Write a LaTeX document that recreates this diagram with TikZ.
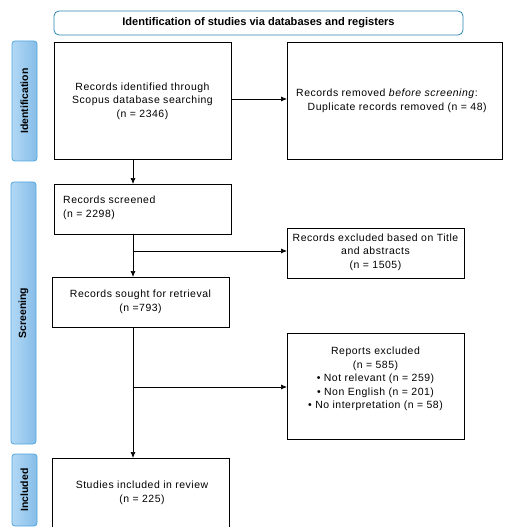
\documentclass[tikz,border=0pt]{standalone}
\usepackage{fontspec}
\setmainfont{Liberation Sans}[LetterSpace=5]
\newfontfamily\titlefont{Liberation Sans}
\usetikzlibrary{arrows.meta,shadings}
\definecolor{barborder}{HTML}{4FA6DE}
\definecolor{barleft}{HTML}{B2D8F5}
\definecolor{barright}{HTML}{86BDE8}
\definecolor{titleborder}{HTML}{2A86B0}
\tikzset{
  box/.style={draw=black, line width=0.8pt, inner sep=0pt},
  sidebar/.style={draw=barborder, line width=0.8pt, rounded corners=3pt, left color=barleft, right color=barright},
  sidelabel/.style={rotate=90, font=\titlefont\fontsize{10.5}{12}\selectfont\bfseries},
  txt/.style={font=\fontsize{10.5}{13.5}\selectfont, align=center, inner sep=0pt},
  flow/.style={-{Latex[length=6pt,width=5pt]}, line width=0.7pt},
}
\begin{document}
\begin{tikzpicture}[x=1bp,y=-1bp]
\useasboundingbox (0,0) rectangle (512,527);
% title
\draw[draw=titleborder, line width=0.8pt, rounded corners=5pt] (54,11) rectangle (463,35);
\node[txt, font=\titlefont\fontsize{11.1}{12}\selectfont\bfseries] (title) at (258.5,23) {Identification of studies via databases and registers};
% side bars
\shade[sidebar] (12,41) rectangle (37,161);
\node[sidelabel] (lid) at (24.5,101) {Identification};
\shade[sidebar] (11,182) rectangle (36,444);
\node[sidelabel] (lsc) at (23.5,313) {Screening};
\shade[sidebar] (12,454) rectangle (37,526);
\node[sidelabel] (lin) at (24.5,490) {Included};
% boxes
\node[box, minimum width=177bp, minimum height=117bp, anchor=north west] (b1) at (54,42) {};
\node[txt] at (142.5,101) {Records identified through\\Scopus database searching\\(n = 2346)};
\node[box, minimum width=215bp, minimum height=117bp, anchor=north west] (b2) at (287,42) {};
\node[txt, align=left, anchor=west] at (296,101) {Records removed \textit{before screening}:\\\hspace{1.1em}Duplicate records removed (n = 48)};
\node[box, minimum width=177bp, minimum height=50bp, anchor=north west] (b3) at (54,184) {};
\node[txt, align=left, anchor=west] at (63,208) {Records screened\\(n = 2298)};
\node[box, minimum width=177bp, minimum height=50bp, anchor=north west] (b4) at (287,228) {};
\node[txt] at (375.5,252) {Records excluded based on Title\\and abstracts\\(n = 1505)};
\node[box, minimum width=177bp, minimum height=50bp, anchor=north west] (b5) at (52,277) {};
\node[txt] at (140.5,302) {Records sought for retrieval\\(n =793)};
\node[box, minimum width=177bp, minimum height=106bp, anchor=north west] (b6) at (287,333) {};
\node[txt] at (375.5,379) {Reports excluded\\(n = 585)\\\textbullet\ Not relevant (n = 259)\\\textbullet\ Non English (n = 201)\\\textbullet\ No interpretation (n = 58)};
\node[box, minimum width=177bp, minimum height=70bp, anchor=north west] (b7) at (52,458) {};
\node[txt] at (142,493) {Studies included in review\\(n = 225)};
% connectors
\coordinate (j1) at (133,251);
\coordinate (j2) at (133,387);
\draw[flow] (b1.east |- 0,99) -- (b2.west |- 0,99);
\draw[flow] (133,159) -- (133,184);
\draw[flow] (133,234) -- (133,277);
\draw[flow] (j1) -- (b4.west |- j1);
\draw[flow] (133,327) -- (133,458);
\draw[flow] (j2) -- (b6.west |- j2);
\end{tikzpicture}
\end{document}
